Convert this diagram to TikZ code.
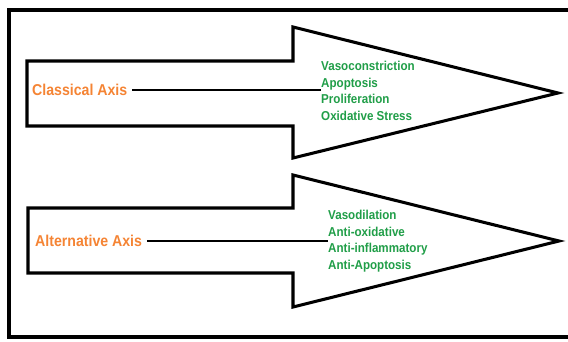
\documentclass[tikz,border=0pt]{standalone}
\usepackage{fontspec}
\setmainfont{Liberation Sans}
\newfontfamily\narrowsans[FakeStretch=0.9]{Liberation Sans}
\usetikzlibrary{positioning}
\definecolor{axisorange}{RGB}{245,132,52}
\definecolor{effectgreen}{RGB}{32,158,72}

\begin{document}
\begin{tikzpicture}[
    x=0.03cm, y=-0.03cm,
    frame/.style={line width=3.4pt, draw=black},
    bigarrow/.style={line width=2.6pt, draw=black, fill=white},
    axislabel/.style={font=\narrowsans\bfseries\fontsize{13.4}{15}\selectfont, text=axisorange, inner sep=0pt, anchor=west},
    effects/.style={font=\narrowsans\bfseries\fontsize{11}{14.2}\selectfont, text=effectgreen, align=left, inner sep=0pt, anchor=west},
    link/.style={line width=1.6pt, draw=black, shorten <=4pt}
]

\useasboundingbox (0,0) rectangle (568,342);
\clip (0,0) rectangle (568,342);

% outer frame
\draw[frame] (9,10) rectangle (600,337);

% arrows
\draw[bigarrow] (27,61) -- (293,61) -- (293,27) -- (558,93) -- (293,158) -- (293,126) -- (27,126) -- cycle;
\draw[bigarrow] (28,208) -- (293,208) -- (293,175) -- (559,241) -- (293,307) -- (293,273) -- (28,273) -- cycle;

% labels
\node[axislabel] (classical) at (32,90) {Classical Axis};
\node[effects] (classicalfx) at (321,91) {Vasoconstriction\\Apoptosis\\Proliferation\\Oxidative Stress};

\node[axislabel] (alternative) at (35,241) {Alternative Axis};
\node[effects] (alternativefx) at (328,241) {Vasodilation\\Anti-oxidative\\Anti-inflammatory\\Anti-Apoptosis};

\draw[link] (classical.east) -- (classical.east -| classicalfx.west);
\draw[link] (alternative.east) -- (alternative.east -| alternativefx.west);

\end{tikzpicture}
\end{document}
